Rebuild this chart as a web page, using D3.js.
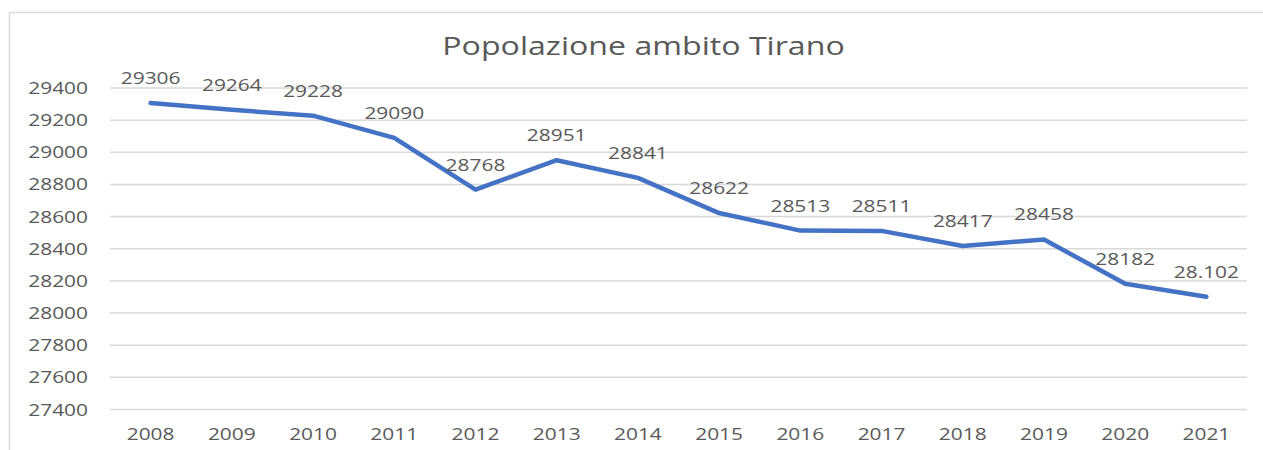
<!DOCTYPE html>
<html><head><meta charset="utf-8">
<script src="https://cdn.jsdelivr.net/npm/d3@7"></script>
<style>body{margin:0;background:#fff}svg{display:block}text{font-family:"Open Sans",sans-serif}</style>
</head><body>
<svg id="c" width="1263" height="450"></svg>
<script>
const years = ["2008","2009","2010","2011","2012","2013","2014","2015","2016","2017","2018","2019","2020","2021"];
const values = [29306,29264,29228,29090,28768,28951,28841,28622,28513,28511,28417,28458,28182,28102];
const labels = ["29306","29264","29228","29090","28768","28951","28841","28622","28513","28511","28417","28458","28182","28.102"];
const yTicks = [27400,27600,27800,28000,28200,28400,28600,28800,29000,29200,29400];
const title = "Popolazione ambito Tirano";

const svg = d3.select("#c");
svg.append("rect").attr("x",9.5).attr("y",12.5).attr("width",1262).attr("height",460)
  .attr("fill","#fff").attr("stroke","#d9d9d9").attr("stroke-width",1.5);

const x = d3.scaleBand().domain(years).range([110,1247]).padding(0);
const y = d3.scaleLinear().domain([27400,29400]).range([409.5,88]);

function stext(g, tx, ty, t, size, anchor, sx){
  return g.append("text").attr("transform",`translate(${tx},${ty}) scale(${sx},1)`)
    .attr("text-anchor",anchor).attr("font-size",size).attr("fill","#595959").text(t);
}

// gridlines
svg.append("g").selectAll("line").data(yTicks).join("line")
  .attr("x1",110).attr("x2",1247).attr("y1",d=>y(d)).attr("y2",d=>y(d))
  .attr("stroke","#d9d9d9").attr("stroke-width",1.5);

// y labels
const gy = svg.append("g");
yTicks.forEach(t=>stext(gy, 88, y(t)+6, String(t), 17, "end", 1.23));
// x labels
const gx = svg.append("g");
years.forEach(yr=>stext(gx, x(yr)+x.bandwidth()/2, 439.5, yr, 17, "middle", 1.23));

// title
stext(svg, 643.5, 55, title, 25.5, "middle", 1.26);

// line
const line = d3.line().x((d,i)=>x(years[i])+x.bandwidth()/2).y(d=>y(d));
svg.append("path").datum(values).attr("d",line).attr("fill","none")
  .attr("stroke","#4472C4").attr("stroke-width",4.5).attr("stroke-linecap","round").attr("stroke-linejoin","round");

// data labels
const gl = svg.append("g");
values.forEach((v,i)=>stext(gl, x(years[i])+x.bandwidth()/2, y(v)-19, labels[i], 17, "middle", 1.23));
</script>
</body></html>
